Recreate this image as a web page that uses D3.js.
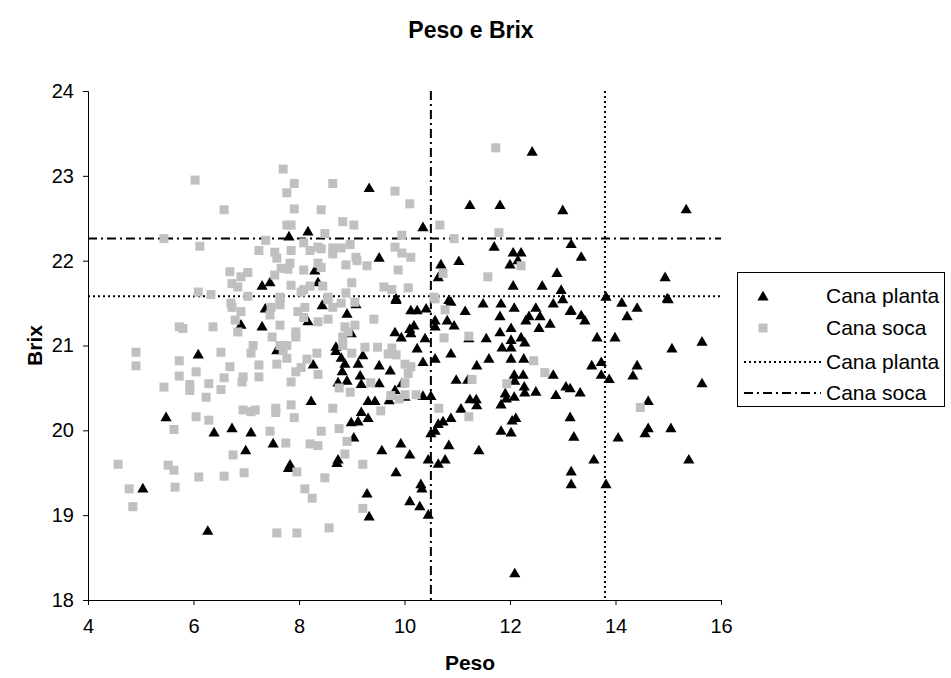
<!DOCTYPE html>
<html>
<head>
<meta charset="utf-8">
<script src="https://cdn.jsdelivr.net/npm/d3@7"></script>
<style>
  html, body { margin: 0; padding: 0; background: #fff; }
  svg { display: block; font-family: "Liberation Sans", Arial, sans-serif; }
</style>
</head>
<body>
<svg id="chart" width="951" height="678"></svg>
<script>
// Peso (x) and Brix (y) per sample
const canaPlanta = [
  [12.42,23.29],[9.33,22.86],[11.24,22.66],[11.81,22.66],[13.0,22.60],[15.34,22.61],[10.35,22.40],[8.17,22.35],
  [7.81,22.29],[13.16,22.20],[11.70,22.17],[12.06,22.10],[12.21,22.10],[13.35,22.05],[9.52,22.04],[12.0,21.96],
  [12.15,22.01],[10.69,21.96],[11.03,22.0],[8.30,21.89],[10.64,21.81],[12.89,21.86],[14.94,21.81],[8.36,21.75],
  [7.30,21.71],[7.45,21.75],[12.06,21.71],[12.61,21.71],[12.97,21.66],[13.82,21.58],[14.98,21.56],[9.84,21.56],
  [6.90,21.25],[6.09,20.90],[5.48,20.16],[6.39,19.98],[6.73,20.03],[7.09,19.98],
  [7.36,21.44],[8.44,21.48],[8.91,21.38],[9.08,21.49],[9.84,21.54],[7.30,21.23],[8.17,21.29],[8.99,21.15],
  [9.82,21.16],[9.94,21.10],[10.10,21.20],[8.70,20.99],[8.70,20.94],[7.58,20.95],[9.21,20.89],[8.80,20.86],
  [8.87,20.79],[8.27,20.78],[9.12,20.79],[9.52,20.77],[9.73,20.71],[8.82,20.70],[9.16,20.65],[8.74,20.57],
  [8.91,20.59],[9.18,20.55],[9.52,20.56],[9.95,20.56],[9.82,20.48],[10.01,20.40],[8.23,20.35],[9.31,20.35],
  [9.44,20.35],[9.71,20.36],[9.18,20.22],[9.31,20.15],[8.99,20.10],[9.12,20.11],
  [10.84,21.54],[10.88,21.52],[11.49,21.50],[11.83,21.50],[12.08,21.45],[12.49,21.45],[12.82,21.50],[13.0,21.55],
  [10.12,21.42],[10.24,21.42],[10.41,21.44],[11.15,21.41],[13.14,21.41],[11.81,21.35],[12.36,21.35],[12.57,21.35],
  [10.58,21.30],[10.81,21.30],[12.30,21.30],[10.18,21.24],[10.58,21.23],[10.94,21.24],[12.02,21.21],[12.76,21.26],
  [12.55,21.21],[10.12,21.15],[10.39,21.09],[11.22,21.09],[11.55,21.09],[11.81,21.16],[12.02,21.07],[12.21,21.10],
  [12.28,21.04],[11.85,20.98],[12.02,20.98],[10.24,20.97],[10.88,20.91],[10.58,20.85],[11.60,20.85],[12.02,20.85],
  [12.26,20.85],[10.35,20.81],[11.37,20.77],[12.08,20.66],[12.25,20.66],[12.82,20.66],[12.09,20.59],[10.98,20.60],
  [11.20,20.60],[12.27,20.52],[12.28,20.45],[12.49,20.46],[12.87,20.42],[13.06,20.52],[11.91,20.44],[12.08,20.40],
  [11.93,20.38],[11.24,20.37],[11.36,20.37],[11.07,20.26],[11.37,20.30],[11.83,20.31],[10.50,20.41],[10.35,20.41],
  [12.11,20.15],[12.04,20.12],[10.88,20.15],[10.73,20.11],[10.64,20.08],[13.14,20.16],[11.83,20.0],[12.02,19.98],
  [10.58,20.0],[10.50,19.97],
  [14.12,21.51],[14.41,21.45],[15.0,21.55],[13.16,21.42],[13.35,21.36],[13.42,21.30],[14.22,21.35],[13.65,21.10],
  [13.99,21.10],[15.07,20.97],[15.64,21.05],[13.55,20.77],[13.73,20.81],[13.73,20.66],[13.88,20.61],[14.41,20.77],
  [14.33,20.65],[15.64,20.56],[13.14,20.50],[13.33,20.45],[14.62,20.35],
  [13.21,19.93],[14.05,19.92],[14.56,19.97],[14.62,20.03],[15.05,20.03],[13.59,19.66],[15.39,19.66],[13.16,19.52],
  [13.16,19.37],[13.82,19.37],
  [10.84,19.83],[11.41,19.77],[10.10,19.72],[10.45,19.66],[10.64,19.61],[10.77,19.66],[10.31,19.37],[10.33,19.32],
  [10.10,19.17],[10.29,19.11],[10.45,19.01],[12.09,18.32],
  [7.51,19.85],[9.04,19.92],[7.83,19.60],[7.80,19.56],[8.74,19.66],[8.72,19.62],[9.57,19.77],[9.93,19.85],
  [9.84,19.51],[9.29,19.26],[9.33,18.99],
  [5.04,19.32],[6.27,18.82],[6.99,19.77]
];

const canaSoca = [
  [6.03,22.95],[6.58,22.60],[5.44,22.26],[6.12,22.17],[6.69,21.87],[6.90,21.81],[7.03,21.86],[6.73,21.73],
  [6.84,21.69],[6.09,21.63],[6.33,21.60],[7.03,21.58],
  [7.70,23.08],[7.91,22.91],[7.77,22.80],[8.64,22.91],[9.82,22.82],[10.10,22.67],[7.91,22.61],[8.42,22.60],
  [8.83,22.46],[9.04,22.42],[7.77,22.42],[7.85,22.42],[8.49,22.32],[9.95,22.30],[7.37,22.24],[7.24,22.12],
  [7.54,22.10],[7.58,22.03],[7.85,22.12],[8.09,22.21],[8.21,22.12],[8.36,22.16],[8.42,22.14],[8.64,22.15],
  [8.64,22.08],[8.80,22.15],[8.97,22.19],[9.08,22.04],[9.10,22.0],[9.29,21.94],[8.89,21.95],[9.82,22.16],
  [9.95,22.09],[10.12,22.04],[7.83,21.97],[7.66,21.91],[7.79,21.90],[8.09,21.89],[8.36,21.97],[8.42,21.92],
  [9.88,21.89],[7.54,21.83],[7.85,21.71],[8.09,21.66],[8.21,21.70],[8.45,21.70],[9.0,21.74],[9.61,21.69],
  [9.76,21.66],[10.07,21.68],[7.64,21.57],[8.55,21.57],[8.89,21.62],[8.04,21.63],
  [11.73,23.33],[10.67,22.42],[10.94,22.26],[11.79,22.33],[12.21,21.94],[10.73,21.85],[11.58,21.81],[10.56,21.57],
  [5.73,21.22],[5.80,21.20],[6.37,21.22],[6.71,21.50],[6.73,21.45],[6.90,21.40],[6.79,21.30],[6.84,21.16],
  [4.91,20.92],[4.91,20.76],[5.73,20.82],[5.73,20.64],[6.05,20.69],[6.52,20.92],[6.69,20.75],[6.58,20.62],
  [6.94,20.63],[6.92,20.57],[7.09,20.91],[5.44,20.51],[5.93,20.54],[5.93,20.47],[6.29,20.55],[6.52,20.48],
  [6.24,20.39],[6.94,20.24],[7.09,20.22],[6.05,20.16],[6.29,20.12],[5.63,20.01],
  [7.47,21.45],[7.64,21.48],[7.45,21.36],[7.64,21.56],[7.98,21.40],[8.11,21.45],[8.09,21.33],[8.55,21.54],
  [8.64,21.45],[8.80,21.50],[9.06,21.51],[8.36,21.28],[8.55,21.31],[9.42,21.31],[7.64,21.24],[8.87,21.22],
  [9.06,21.24],[8.93,21.16],[8.83,21.10],[7.49,21.10],[7.94,21.16],[7.94,21.10],[7.13,21.0],[7.64,21.0],
  [7.77,21.0],[7.70,20.94],[7.77,20.85],[8.83,21.0],[9.25,20.98],[9.49,20.98],[9.76,20.97],[9.69,20.90],
  [9.84,20.89],[8.34,20.91],[8.15,20.84],[8.04,20.74],[7.58,20.78],[7.24,20.77],[7.24,20.63],[7.94,20.69],
  [7.85,20.57],[8.36,20.66],[10.01,20.78],[10.07,20.67],[9.0,20.91],[9.36,20.56],[8.76,20.50],[8.97,20.45],
  [10.01,20.56],[9.74,20.41],[9.90,20.37],[10.01,20.42],[7.17,20.24],[7.56,20.26],[7.85,20.30],[7.56,20.21],
  [8.64,20.26],[9.55,20.23],[7.91,20.15],[7.45,19.99],[8.42,19.99],[8.76,20.02],
  [10.58,21.55],[10.77,21.42],[10.75,21.09],[11.22,21.11],[12.45,20.82],[12.66,20.68],[11.94,20.55],[11.28,20.60],
  [10.22,20.42],[10.65,20.26],[11.22,20.16],[10.12,20.75],
  [14.47,20.27],
  [7.75,19.85],[8.21,19.84],[8.36,19.82],[8.91,19.87],[8.87,19.72],[9.21,19.60],[7.96,19.51],[8.49,19.44],
  [8.11,19.31],[8.25,19.20],[9.21,19.08],[7.58,18.79],[7.96,18.79],[8.57,18.85],
  [4.57,19.60],[5.52,19.59],[5.63,19.53],[6.75,19.71],[6.58,19.46],[6.96,19.50],[6.10,19.45],[5.65,19.33],
  [4.78,19.31],[4.85,19.10]
];

// Reference lines: [Peso, Brix] for each group
const refPlanta = [13.8, 21.58];
const refSoca = [10.5, 22.26];

const xTicks = [4, 6, 8, 10, 12, 14, 16];
const yTicks = [18, 19, 20, 21, 22, 23, 24];

const svg = d3.select("#chart");
const plot = { left: 88, right: 721, top: 91, bottom: 600 };

const x = d3.scaleLinear().domain([4, 16]).range([plot.left, plot.right]);
const y = d3.scaleLinear().domain([18, 24]).range([plot.bottom, plot.top]);

// Title
svg.append("text")
  .attr("x", 471).attr("y", 38)
  .attr("text-anchor", "middle")
  .attr("font-size", 23).attr("font-weight", "bold")
  .text("Peso e Brix");

// Axes
const xAxis = d3.axisBottom(x).tickValues(xTicks).tickSize(5).tickPadding(19).tickFormat(d3.format("d"));
const yAxis = d3.axisLeft(y).tickValues(yTicks).tickSize(5).tickPadding(9).tickFormat(d3.format("d"));

const gx = svg.append("g").attr("transform", `translate(0,${plot.bottom})`).call(xAxis);
const gy = svg.append("g").attr("transform", `translate(${plot.left},0)`).call(yAxis);
[gx, gy].forEach(g => {
  g.select(".domain").attr("stroke", "#000").attr("stroke-width", 1);
  g.selectAll(".tick line").attr("stroke", "#000");
  g.selectAll(".tick text").attr("font-size", 20).attr("fill", "#000")
    .attr("font-family", "'Liberation Sans', Arial, sans-serif");
});
gx.selectAll(".tick text").attr("dy", "0.45em");

// Axis titles
svg.append("text")
  .attr("x", 470).attr("y", 670)
  .attr("text-anchor", "middle")
  .attr("font-size", 21).attr("font-weight", "bold")
  .text("Peso");
svg.append("text")
  .attr("transform", `translate(42,${(plot.top + plot.bottom) / 2}) rotate(-90)`)
  .attr("text-anchor", "middle")
  .attr("font-size", 21).attr("font-weight", "bold")
  .text("Brix");

// Marker shapes
const triPath = "M0,-5.2L5.6,4.4L-5.6,4.4Z";
const sqSize = 9;
const dotDash = "2,3";
const dashDot = "9,4,2,4";

// Reference lines
const refs = svg.append("g");
function refLines(ref, dash) {
  refs.append("line")
    .attr("x1", x(ref[0])).attr("x2", x(ref[0]))
    .attr("y1", y(24)).attr("y2", y(18))
    .attr("stroke", "#000").attr("stroke-width", 2).attr("stroke-dasharray", dash);
  refs.append("line")
    .attr("x1", x(4)).attr("x2", x(16))
    .attr("y1", y(ref[1])).attr("y2", y(ref[1]))
    .attr("stroke", "#000").attr("stroke-width", 2).attr("stroke-dasharray", dash);
}
refLines(refPlanta, dotDash);
refLines(refSoca, dashDot);

// Points
svg.append("g").selectAll("path")
  .data(canaPlanta)
  .join("path")
  .attr("d", triPath)
  .attr("transform", d => `translate(${x(d[0])},${y(d[1])})`)
  .attr("fill", "#000");

svg.append("g").selectAll("rect")
  .data(canaSoca)
  .join("rect")
  .attr("x", d => x(d[0]) - sqSize / 2)
  .attr("y", d => y(d[1]) - sqSize / 2)
  .attr("width", sqSize).attr("height", sqSize)
  .attr("fill", "#c0c0c0");

// Legend
const legend = svg.append("g");
legend.append("rect")
  .attr("x", 737.5).attr("y", 272.5).attr("width", 207).attr("height", 134)
  .attr("fill", "#fff").attr("stroke", "#000");

const items = [
  { label: "Cana planta", type: "tri" },
  { label: "Cana soca", type: "sq" },
  { label: "Cana planta", type: "line", dash: dotDash },
  { label: "Cana soca", type: "line", dash: dashDot }
];
const rowY = [296, 328, 362, 393];
items.forEach((it, i) => {
  const cy = rowY[i];
  if (it.type === "tri") {
    legend.append("path").attr("d", triPath).attr("transform", `translate(763,${cy})`).attr("fill", "#000");
  } else if (it.type === "sq") {
    legend.append("rect").attr("x", 763 - sqSize / 2).attr("y", cy - sqSize / 2)
      .attr("width", sqSize).attr("height", sqSize).attr("fill", "#c0c0c0");
  } else {
    legend.append("line").attr("x1", 744).attr("x2", 821).attr("y1", cy).attr("y2", cy)
      .attr("stroke", "#000").attr("stroke-width", 2).attr("stroke-dasharray", it.dash);
  }
  legend.append("text")
    .attr("x", 826).attr("y", cy + 7)
    .attr("font-size", 21)
    .text(it.label);
});
</script>
</body>
</html>
